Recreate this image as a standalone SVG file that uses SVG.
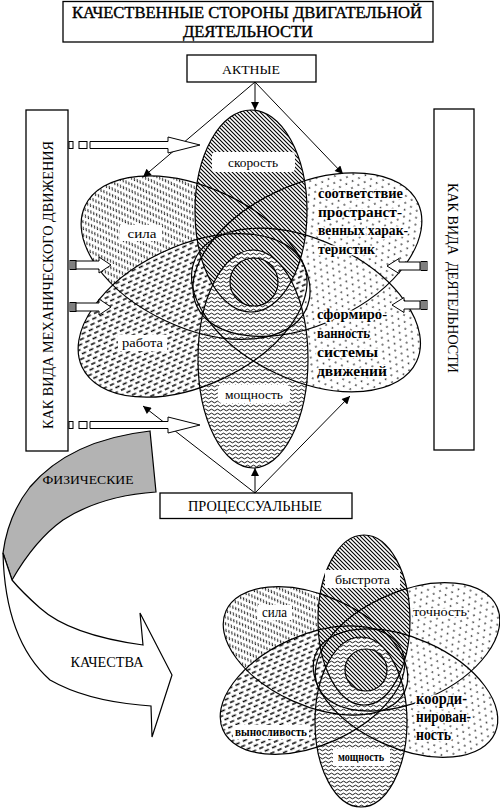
<svg xmlns="http://www.w3.org/2000/svg" width="500" height="812" viewBox="0 0 500 812">
<style>
 .box{fill:#fff;stroke:#000;stroke-width:1.3}
 .t{fill:#000;font-family:"Liberation Serif","DejaVu Serif",serif}
 .ol{fill:none;stroke:#000;stroke-width:1.2}
 .con{stroke:#000;stroke-width:1;fill:none}
 .harr{fill:#fff;stroke:#000;stroke-width:1}
 .halo{paint-order:stroke;stroke:#fff;stroke-width:3;stroke-linejoin:round}
 .wb{fill:#fff}
 .heavy{stroke:#000;stroke-width:0.4}
</style>
<defs>
 <pattern id="hatch" width="4" height="4" patternUnits="userSpaceOnUse">
  <rect width="4" height="4" fill="#fff"/>
  <path d="M-1,-1 L5,5 M-1,3 L1,5 M3,-1 L5,1" stroke="#000" stroke-width="1.1"/>
 </pattern>
 <pattern id="wavy" width="6" height="4" patternUnits="userSpaceOnUse">
  <rect width="6" height="4" fill="#fff"/>
  <path d="M0,2 Q1.5,0.3 3,2 T6,2" stroke="#000" stroke-width="0.9" fill="none"/>
 </pattern>
 <pattern id="rows" width="3.2" height="6" patternUnits="userSpaceOnUse">
  <rect width="3.2" height="6" fill="#fff"/>
  <path d="M0.6,1.3 L2.3,3.9" stroke="#000" stroke-width="0.9"/>
 </pattern>
 <pattern id="dash" width="8" height="9" patternUnits="userSpaceOnUse">
  <rect width="8" height="9" fill="#fff"/>
  <path d="M0,2 H4.5 M4,6.5 H8.5 M-0.5,6.5 H0.5" stroke="#000" stroke-width="1.3"/>
 </pattern>
 <pattern id="dots" width="7" height="12" patternUnits="userSpaceOnUse">
  <rect width="7" height="12" fill="#fff"/>
  <circle cx="1.5" cy="3" r="0.85" fill="#000"/>
  <circle cx="5" cy="9" r="0.85" fill="#000"/>
 </pattern>
 <marker id="ah" viewBox="0 0 10 10" refX="10" refY="5" markerWidth="10" markerHeight="8" orient="auto" markerUnits="userSpaceOnUse">
  <path d="M0,0 L10,5 L0,10 Z" fill="#000"/>
 </marker>
 <ellipse id="g-sila" cx="195.6" cy="257.6" rx="122" ry="70" transform="rotate(25 195.6 257.6)"/>
 <ellipse id="g-sootv" cx="307.4" cy="254.6" rx="122" ry="70" transform="rotate(-25 307.4 254.6)"/>
 <ellipse id="g-sform" cx="306" cy="310" rx="122" ry="70" transform="rotate(25 306 310)"/>
 <ellipse id="g-rab" cx="192.6" cy="315.4" rx="122" ry="70" transform="rotate(-25 192.6 315.4)"/>
 <ellipse id="g-skor" cx="251" cy="211" rx="56" ry="101"/>
 <ellipse id="g-mosch" cx="253" cy="359" rx="55" ry="109"/>
 <circle id="g-circ" cx="254" cy="282" r="24"/>
 <ellipse id="h-sila" cx="315.5" cy="650.9" rx="98" ry="55" transform="rotate(24 315.5 650.9)"/>
 <ellipse id="h-vyn" cx="312.5" cy="690.1" rx="98" ry="55" transform="rotate(-24 312.5 690.1)"/>
 <ellipse id="h-toch" cx="407.5" cy="646.9" rx="98" ry="55" transform="rotate(-24 407.5 646.9)"/>
 <ellipse id="h-koord" cx="405.5" cy="693.1" rx="98" ry="55" transform="rotate(24 405.5 693.1)"/>
 <ellipse id="h-bys" cx="364" cy="620" rx="46" ry="85"/>
 <ellipse id="h-mosch" cx="361" cy="722" rx="46" ry="85"/>
 <circle id="h-circ" cx="366" cy="670" r="21"/>
</defs>

<g id="title">
 <rect class="box" x="63" y="1.5" width="370" height="40.5"/>
 <text class="t heavy" x="247" y="18" font-size="16" text-anchor="middle" textLength="350" lengthAdjust="spacingAndGlyphs">КАЧЕСТВЕННЫЕ СТОРОНЫ ДВИГАТЕЛЬНОЙ</text>
 <text class="t heavy" x="248" y="37" font-size="16" text-anchor="middle" textLength="130" lengthAdjust="spacingAndGlyphs">ДЕЯТЕЛЬНОСТИ</text>
</g>

<g id="aktnye">
 <rect class="box" x="187" y="55" width="129" height="27"/>
 <text class="t" x="251" y="73.5" font-size="13" text-anchor="middle" textLength="58" lengthAdjust="spacingAndGlyphs">АКТНЫЕ</text>
</g>

<g id="processualnye">
 <rect class="box" x="160" y="493" width="192" height="25.5"/>
 <text class="t" x="255" y="510.5" font-size="14.5" text-anchor="middle" textLength="134" lengthAdjust="spacingAndGlyphs">ПРОЦЕССУАЛЬНЫЕ</text>
</g>

<g id="mech-box">
 <rect class="box" x="26" y="110" width="42" height="341"/>
 <text class="t" transform="translate(53 285) rotate(-90)" font-size="15" text-anchor="middle" textLength="288" lengthAdjust="spacingAndGlyphs">КАК ВИДА МЕХАНИЧЕСКОГО ДВИЖЕНИЯ</text>
</g>

<g id="activity-box">
 <rect class="box" x="434" y="109" width="40" height="341"/>
 <text class="t" transform="translate(448 278) rotate(90)" font-size="15" text-anchor="middle" textLength="190" lengthAdjust="spacingAndGlyphs" xml:space="preserve">КАК ВИДА  ДЕЯТЕЛЬНОСТИ</text>
</g>

<g id="fizicheskie-kachestva">
 <path d="M150,431 Q70,440 30,487 Q8,515 3,553 L12,580 Q35,540 63,520 Q100,496 156,492 Z" fill="#b3b3b3" stroke="#000" stroke-width="1.2"/>
 <path d="M3,553 Q5,640 50,680 Q85,700 140,705 L151,706 L152,737 L172,675 L140,613 L143,645 Q70,635 40,608 Q22,592 12,580 Z" fill="#fff" stroke="#000" stroke-width="1.2"/>
 <text class="t" x="88" y="484" font-size="13" text-anchor="middle" textLength="91" lengthAdjust="spacingAndGlyphs">ФИЗИЧЕСКИЕ</text>
 <text class="t" x="107" y="667" font-size="14" text-anchor="middle" textLength="73" lengthAdjust="spacingAndGlyphs">КАЧЕСТВА</text>
</g>

<g id="flower-top">
 <g id="sila"><use href="#g-sila" fill="url(#rows)"/></g>
 <g id="sootvetstvie"><use href="#g-sootv" fill="url(#dots)"/></g>
 <g id="sformirovannost"><use href="#g-sform" fill="url(#dots)"/></g>
 <g id="rabota"><use href="#g-rab" fill="url(#dash)"/></g>
 <g id="skorost"><use href="#g-skor" fill="url(#hatch)"/></g>
 <g id="moshchnost"><use href="#g-mosch" fill="url(#wavy)"/></g>
 <g id="center-top"><use href="#g-circ" fill="url(#hatch)"/></g>
 <g id="outlines-top" class="ol">
  <use href="#g-sila"/><use href="#g-sootv"/><use href="#g-sform"/><use href="#g-rab"/>
  <use href="#g-skor"/><use href="#g-mosch"/><use href="#g-circ"/>
 </g>
 <g id="labels-top">
  <rect class="wb" x="212" y="152" width="83" height="20" rx="4"/>
  <text class="t" x="253" y="167" font-size="13" text-anchor="middle" textLength="50" lengthAdjust="spacingAndGlyphs">скорость</text>
  <rect class="wb" x="218" y="385" width="72" height="18" rx="4"/>
  <text class="t" x="254" y="399" font-size="13" text-anchor="middle" textLength="58" lengthAdjust="spacingAndGlyphs">мощность</text>
  <rect class="wb" x="120" y="225" width="42" height="16"/>
  <text class="t" x="142" y="237.5" font-size="13" text-anchor="middle" textLength="29" lengthAdjust="spacingAndGlyphs">сила</text>
  <rect class="wb" x="118" y="335" width="49" height="16"/>
  <text class="t" x="142.5" y="347" font-size="13" text-anchor="middle" textLength="41" lengthAdjust="spacingAndGlyphs">работа</text>
  <g class="t halo" font-size="15" font-weight="bold">
   <text x="318" y="198" textLength="85" lengthAdjust="spacingAndGlyphs">соответствие</text>
   <text x="318" y="217" textLength="84" lengthAdjust="spacingAndGlyphs">пространст-</text>
   <text x="318" y="235" textLength="90" lengthAdjust="spacingAndGlyphs">венных харак-</text>
   <text x="318" y="254" textLength="57" lengthAdjust="spacingAndGlyphs">теристик</text>
   <text x="317" y="319" textLength="70" lengthAdjust="spacingAndGlyphs">сформиро-</text>
   <text x="317" y="338" textLength="53" lengthAdjust="spacingAndGlyphs">ванность</text>
   <text x="317" y="357" textLength="61" lengthAdjust="spacingAndGlyphs">системы</text>
   <text x="317" y="376" textLength="70" lengthAdjust="spacingAndGlyphs">движений</text>
  </g>
 </g>
</g>

<g id="flower-bottom">
 <g id="sila-2"><use href="#h-sila" fill="url(#rows)"/></g>
 <g id="tochnost"><use href="#h-toch" fill="url(#dots)"/></g>
 <g id="koordinirovannost"><use href="#h-koord" fill="url(#dots)"/></g>
 <g id="vynoslivost"><use href="#h-vyn" fill="url(#dash)"/></g>
 <g id="bystrota"><use href="#h-bys" fill="url(#hatch)"/></g>
 <g id="moshchnost-2"><use href="#h-mosch" fill="url(#wavy)"/></g>
 <g id="center-bottom"><use href="#h-circ" fill="url(#hatch)"/></g>
 <g id="outlines-bottom" class="ol">
  <use href="#h-sila"/><use href="#h-toch"/><use href="#h-koord"/><use href="#h-vyn"/>
  <use href="#h-bys"/><use href="#h-mosch"/><use href="#h-circ"/>
 </g>
 <g id="labels-bottom">
  <rect class="wb" x="325" y="570" width="75" height="18"/>
  <text class="t" x="362.5" y="584" font-size="13" text-anchor="middle" textLength="55" lengthAdjust="spacingAndGlyphs">быстрота</text>
  <rect class="wb" x="258" y="605" width="34" height="15"/>
  <text class="t" x="274.5" y="617" font-size="14" text-anchor="middle" textLength="25" lengthAdjust="spacingAndGlyphs">сила</text>
  <text class="t halo" x="440" y="616" font-size="12" text-anchor="middle" textLength="54" lengthAdjust="spacingAndGlyphs">точность</text>
  <rect class="wb" x="233" y="725" width="76" height="14"/>
  <text class="t" x="271" y="736" font-size="11.5" font-weight="bold" text-anchor="middle" textLength="72" lengthAdjust="spacingAndGlyphs">выносливость</text>
  <rect class="wb" x="333" y="749" width="57" height="17"/>
  <text class="t" x="361" y="761" font-size="12" font-weight="bold" text-anchor="middle" textLength="46" lengthAdjust="spacingAndGlyphs">мощность</text>
  <g class="t halo" font-size="16" font-weight="bold">
   <text x="416" y="704" textLength="51" lengthAdjust="spacingAndGlyphs">коорди-</text>
   <text x="416" y="722" textLength="55" lengthAdjust="spacingAndGlyphs">нирован-</text>
   <text x="416" y="740" textLength="35" lengthAdjust="spacingAndGlyphs">ность</text>
  </g>
 </g>
</g>

<g id="connectors">
 <g class="con">
  <line x1="255" y1="82" x2="255" y2="110" marker-end="url(#ah)"/>
  <line x1="255" y1="82" x2="143" y2="177" marker-end="url(#ah)"/>
  <line x1="255" y1="82" x2="343" y2="174" marker-end="url(#ah)"/>
  <line x1="255" y1="493" x2="255" y2="468" marker-end="url(#ah)"/>
  <line x1="255" y1="493" x2="143" y2="406" marker-end="url(#ah)"/>
  <line x1="255" y1="493" x2="350" y2="396" marker-end="url(#ah)"/>
 </g>
 <g class="harr">
  <rect x="69" y="141.5" width="4" height="7"/><rect x="79" y="141.5" width="8" height="7"/>
  <path d="M90,141.5 L168,141.5 L168,137 L200,145 L168,153 L168,148.5 L90,148.5 Z"/>
  <rect x="69" y="421.5" width="4" height="7"/><rect x="79" y="421.5" width="8" height="7"/>
  <path d="M90,421.5 L168,421.5 L168,417 L200,425 L168,433 L168,428.5 L90,428.5 Z"/>
  <rect x="70" y="260.5" width="6" height="9"/><path d="M72,260.5 V269.5 M74,260.5 V269.5"/>
  <path d="M76,261 L99,261 L99,257 L111,265 L99,273 L99,269 L76,269 Z"/>
  <rect x="70" y="302.5" width="6" height="9"/><path d="M72,302.5 V311.5 M74,302.5 V311.5"/>
  <path d="M76,303 L99,303 L99,299 L111,307 L99,315 L99,311 L76,311 Z"/>
  <path d="M420,262 L399,262 L399,258.5 L387,266 L399,273.5 L399,270 L420,270 Z"/>
  <rect x="421" y="261.5" width="6" height="9"/><path d="M423,261.5 V270.5 M425,261.5 V270.5"/>
  <path d="M420,301 L404,301 L404,297.5 L392,305 L404,312.5 L404,309 L420,309 Z"/>
  <rect x="421" y="300.5" width="6" height="9"/><path d="M423,300.5 V309.5 M425,300.5 V309.5"/>
 </g>
</g>
</svg>
